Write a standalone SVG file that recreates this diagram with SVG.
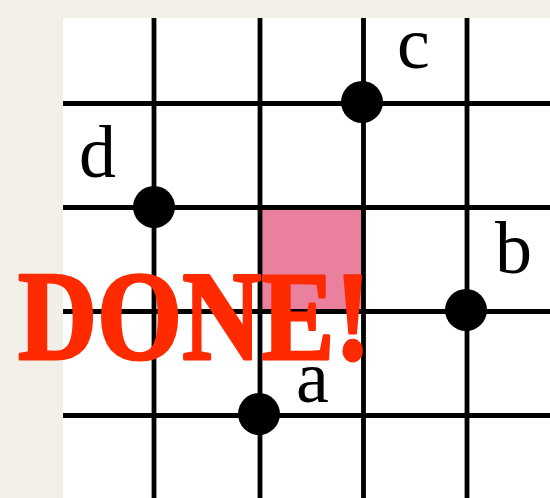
<svg xmlns="http://www.w3.org/2000/svg" width="550" height="498" viewBox="0 0 550 498">
<style>
.g{stroke:#000;stroke-width:4.8;fill:none}
.dot{fill:#000}
.lbl{font-family:"Liberation Serif","Times New Roman",serif;font-size:74px;fill:#000}
.done{font-family:"Liberation Serif","Times New Roman",serif;font-weight:bold;font-size:126px;fill:#FF2A00;stroke:#FF2A00;stroke-width:3;stroke-linejoin:round}
</style>
<rect x="0" y="0" width="550" height="498" fill="#F2EFE9"/>
<rect x="63" y="18" width="487" height="480" fill="#FFFFFF"/>
<rect id="cell" x="260" y="207.5" width="103.5" height="104" fill="#E9819E"/>
<g id="connectors">
<line class="g" x1="154" y1="18" x2="154" y2="498"/>
<line class="g" x1="260" y1="18" x2="260" y2="498"/>
<line class="g" x1="363.5" y1="18" x2="363.5" y2="498"/>
<line class="g" x1="467" y1="18" x2="467" y2="498"/>
<line class="g" x1="63" y1="103.5" x2="550" y2="103.5"/>
<line class="g" x1="63" y1="207.5" x2="550" y2="207.5"/>
<line class="g" x1="63" y1="311.5" x2="550" y2="311.5"/>
<line class="g" x1="63" y1="415.5" x2="550" y2="415.5"/>
</g>
<g id="node-c"><circle class="dot" cx="362" cy="102" r="21"/><text class="lbl" x="397" y="68">c</text></g>
<g id="node-d"><circle class="dot" cx="154" cy="207" r="21"/><text class="lbl" x="79" y="177">d</text></g>
<g id="node-b"><circle class="dot" cx="466" cy="310" r="21"/><text class="lbl" x="495" y="273">b</text></g>
<g id="node-a"><circle class="dot" cx="259" cy="414" r="21"/><text class="lbl" x="296" y="402">a</text></g>
<text class="done" x="18" y="359" textLength="353" lengthAdjust="spacingAndGlyphs">DONE!</text>
</svg>
